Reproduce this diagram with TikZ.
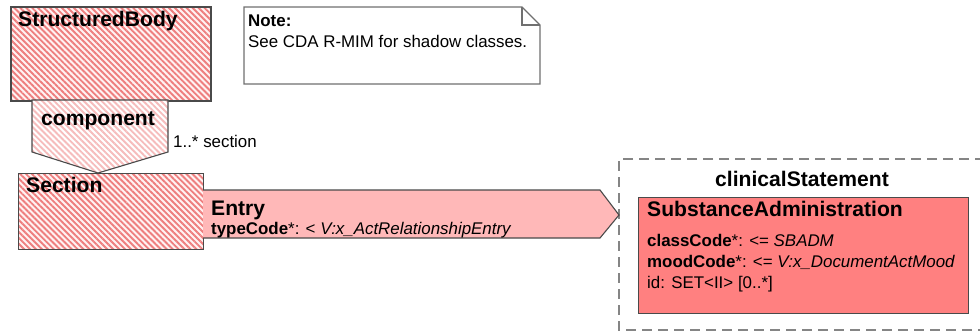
\documentclass[tikz,border=0pt]{standalone}
\usepackage{fontspec}
\setmainfont{Liberation Sans}
\usetikzlibrary{patterns.meta}
\definecolor{edgegray}{HTML}{4A4A4A}
\definecolor{stripered}{HTML}{EE7E7E}
\definecolor{stripelight}{HTML}{F6BCBC}
\definecolor{hatchbg}{HTML}{FFF2F2}
\definecolor{entryfill}{HTML}{FFB8B8}
\definecolor{safill}{HTML}{FF8080}
\definecolor{dashgray}{HTML}{858585}
\definecolor{notegray}{HTML}{707070}
\tikzset{
  hatchbox/.style={draw=edgegray, line width=1.3pt, preaction={fill=hatchbg},
    pattern={Lines[angle=-45,distance=4.2pt,line width=1.9pt]}, pattern color=stripered},
  lighthatch/.style={draw=edgegray, line width=1.1pt, preaction={fill=white},
    pattern={Lines[angle=-45,distance=4.2pt,line width=1.9pt]}, pattern color=stripelight},
  entrystyle/.style={draw=edgegray, line width=1.1pt, fill=entryfill},
  sabox/.style={draw=edgegray, line width=1.3pt, fill=safill},
  notestyle/.style={draw=notegray, line width=1.3pt, fill=white},
  dashbox/.style={draw=dashgray, line width=2pt, dash pattern=on 10pt off 6pt},
  titletext/.style={anchor=base west, inner sep=0pt, font=\fontsize{21.1}{24}\selectfont\bfseries},
  bodytext/.style={anchor=base west, inner sep=0pt, font=\fontsize{16.9}{21}\selectfont, align=left},
}
\begin{document}
\begin{tikzpicture}[x=1pt,y=-1pt]
\useasboundingbox (0,0) rectangle (980,332);
% dashed clinical statement frame (right side cut off)
\draw[dashbox] (985,159) -- (619,159) -- (619,330) -- (985,330);
% StructuredBody
\node[hatchbox, anchor=north west, minimum width=200pt, minimum height=94pt, inner sep=0pt] (sb) at (10,6) {};
\node[titletext] (sbt) at (18,27) {StructuredBody};
% component (connector shape)
\draw[lighthatch] (32,100) -- (168,100) -- (168,152) -- (98,173) -- (32,152) -- cycle;
\node[titletext] (compt) at (41,125) {component};
\node[bodytext] (compl) at (173,147) {1..* section};
% Section
\node[hatchbox, anchor=north west, minimum width=185pt, minimum height=76pt, inner sep=0pt] (sec) at (18,173) {};
\node[titletext] (sect) at (26,192) {Section};
% Entry arrow
\draw[entrystyle] (203,190) -- (600,190) -- (619,215) -- (600,238) -- (203,238);
\node[titletext] (entt) at (211,215) {Entry};
\node[bodytext] (entl) at (211,234) {\textbf{typeCode}*: < \textit{V:x\_ActRelationshipEntry}};
% Note
\draw[notestyle] (244,7) -- (522,7) -- (540,25) -- (540,84) -- (244,84) -- cycle;
\draw[draw=notegray, line width=1.3pt] (522,7) -- (522,25) -- (540,25);
\node[bodytext] (notet) at (248,27) {\textbf{Note:}};
\node[bodytext] (notel) at (248,47) {See CDA R-MIM for shadow classes.};
% clinicalStatement
\node[anchor=base, inner sep=0pt, font=\fontsize{21.1}{24}\selectfont\bfseries] (cst) at (802,186) {clinicalStatement};
% SubstanceAdministration
\node[sabox, anchor=north west, minimum width=330pt, minimum height=116pt, inner sep=0pt] (sa) at (638,197) {};
\node[titletext] (sat) at (647,216) {SubstanceAdministration};
\node[bodytext] (sa1) at (647,246) {\textbf{classCode}*: <= \textit{SBADM}};
\node[bodytext] (sa2) at (647,267) {\textbf{moodCode}*: <= \textit{V:x\_DocumentActMood}};
\node[bodytext] (sa3) at (647,288) {id: SET<II> [0..*]};
\end{tikzpicture}
\end{document}
